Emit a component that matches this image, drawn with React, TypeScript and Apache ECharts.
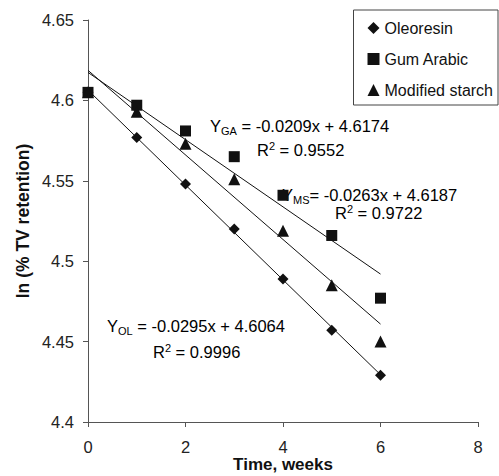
import React, { useEffect, useRef } from "react";
import * as echarts from "echarts";

const weeks = [0, 1, 2, 3, 4, 5, 6];
const oleoresin = [4.605, 4.577, 4.548, 4.52, 4.489, 4.457, 4.429];
const gumArabic = [4.605, 4.597, 4.581, 4.565, 4.541, 4.516, 4.477];
const modifiedStarch = [4.605, 4.593, 4.573, 4.551, 4.519, 4.485, 4.45];

// regression coefficients as printed on the chart: [slope, intercept]
const fitOL = [-0.0295, 4.6064];
const fitGA = [-0.0209, 4.6174];
const fitMS = [-0.0263, 4.6187];
const fitRange = [0, 6];

const yTicks = { min: 4.4, max: 4.65, interval: 0.05 };
const xTicks = { min: 0, max: 8, interval: 2 };

const FONT = "'Liberation Sans', Arial, Helvetica, sans-serif";
const FS = 16.5;

function pairs(ys: number[]) {
  return weeks.map((w, i) => [w, ys[i]]);
}
function fitLine(c: number[]) {
  return fitRange.map((x) => [x, c[0] * x + c[1]]);
}

const rich = {
  m: { fontSize: FS, fontFamily: FONT, color: "#111", lineHeight: 20 },
  s: { fontSize: 11, fontFamily: FONT, color: "#111", lineHeight: 10, verticalAlign: "bottom" },
  p: { fontSize: 11, fontFamily: FONT, color: "#111", lineHeight: 12, verticalAlign: "top" },
};

function txt(x: number, y: number, text: string) {
  return {
    type: "text",
    x,
    y,
    silent: true,
    style: { text, rich, verticalAlign: "middle", align: "left", fontSize: FS, fontFamily: FONT },
  };
}

export default function App() {
  const ref = useRef<HTMLDivElement>(null);
  useEffect(() => {
    if (!ref.current) return;
    const chart = echarts.init(ref.current, undefined, { renderer: "svg" });
    const lineStyle = { color: "#111", width: 1 };
    const trend = (name: string, c: number[]) => ({
      name,
      type: "line",
      data: fitLine(c),
      symbol: "none",
      lineStyle,
      silent: true,
      z: 1,
    });
    const scat = (name: string, ys: number[], symbol: string, size: number) => ({
      name,
      type: "scatter",
      data: pairs(ys),
      symbol,
      symbolSize: size,
      itemStyle: { color: "#111", opacity: 1 },
      z: 3,
    });
    chart.setOption({
      animation: false,
      backgroundColor: "#fff",
      grid: {
        left: 88,
        top: 20,
        right: 21,
        bottom: 54,
        containLabel: false,
        outerBoundsMode: "none",
      },
      legend: {
        data: ["Oleoresin", "Gum Arabic", "Modified starch"],
        orient: "vertical",
        right: 1,
        top: 10,
        borderColor: "#444",
        borderWidth: 1,
        borderRadius: 0,
        padding: [10, 5, 7, 14],
        itemGap: 15,
        itemWidth: 12,
        itemHeight: 12,
        textStyle: { fontSize: 16, fontFamily: FONT, color: "#111" },
        selectedMode: false,
      },
      xAxis: {
        type: "value",
        min: xTicks.min,
        max: xTicks.max,
        interval: xTicks.interval,
        name: "Time, weeks",
        nameLocation: "middle",
        nameGap: 34,
        nameMoveOverlap: false,
        nameTextStyle: {
          fontSize: 17,
          fontWeight: "bold",
          fontFamily: FONT,
          color: "#111",
        },
        axisLine: { lineStyle: { color: "#555", width: 1 } },
        axisTick: { show: true, length: 5, lineStyle: { color: "#555" } },
        axisLabel: { fontSize: FS, fontFamily: FONT, color: "#222", margin: 16 },
        splitLine: { show: false },
      },
      yAxis: {
        type: "value",
        min: yTicks.min,
        max: yTicks.max,
        interval: yTicks.interval,
        name: "ln (% TV retention)",
        nameLocation: "middle",
        nameRotate: 90,
        nameGap: 56,
        nameMoveOverlap: false,
        nameTextStyle: { fontSize: 17.5, fontWeight: "bold", fontFamily: FONT, color: "#111" },
        axisLine: { show: true, lineStyle: { color: "#555", width: 1 } },
        axisTick: { show: true, length: 5, lineStyle: { color: "#555" } },
        axisLabel: {
          fontSize: FS,
          fontFamily: FONT,
          color: "#222",
          margin: 14,
          formatter: (v: number) => String(parseFloat(v.toFixed(2))),
        },
        splitLine: { show: false },
      },
      series: [
        trend("OL fit", fitOL),
        trend("GA fit", fitGA),
        trend("MS fit", fitMS),
        scat("Oleoresin", oleoresin, "diamond", 11),
        scat("Gum Arabic", gumArabic, "rect", 11),
        scat("Modified starch", modifiedStarch, "triangle", 12),
      ],
      graphic: [
        txt(210, 126, "{m|Y}{s|GA}{m| = -0.0209x + 4.6174}"),
        txt(257, 150, "{m|R}{p|2}{m| = 0.9552}"),
        txt(282, 195, "{m|Y}{s|MS}{m|= -0.0263x + 4.6187}"),
        txt(335, 213, "{m|R}{p|2}{m| = 0.9722}"),
        txt(107, 326, "{m|Y}{s|OL}{m| = -0.0295x + 4.6064}"),
        txt(153, 352, "{m|R}{p|2}{m| = 0.9996}"),
      ],
    });
    return () => chart.dispose();
  }, []);
  return (
    <div
      ref={ref}
      style={{ position: "fixed", left: 0, top: 0, width: 499, height: 476 }}
    />
  );
}
